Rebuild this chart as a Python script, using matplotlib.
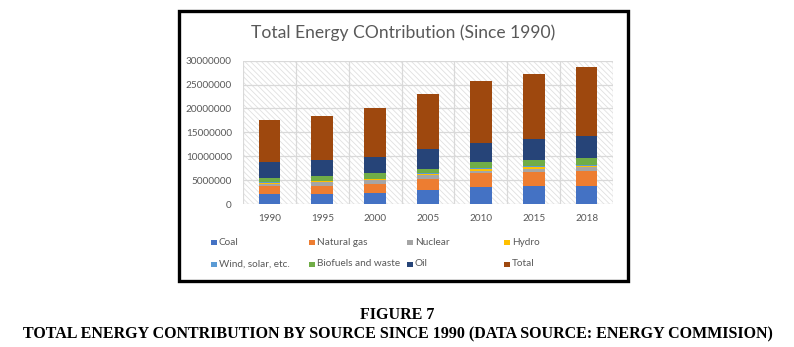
import numpy as np
import matplotlib.pyplot as plt
from matplotlib.patches import Rectangle

years = ["1990", "1995", "2000", "2005", "2010", "2015", "2018"]

coal = [2090000, 2090000, 2300000, 2930000, 3630000, 3770000, 3770000]
natural_gas = [1680000, 1680000, 1890000, 2230000, 2790000, 2930000, 3140000]
nuclear = [490000, 830000, 900000, 910000, 490000, 630000, 840000]
hydro = [140000, 150000, 140000, 210000, 420000, 490000, 300000]
wind_solar = [140000, 50000, 70000, 140000, 140000, 200000, 200000]
biofuels = [900000, 1060000, 1120000, 910000, 1320000, 1190000, 1380000]
oil = [3350000, 3350000, 3420000, 4170000, 3980000, 4390000, 4610000]
total = [8800000, 9210000, 10260000, 11500000, 12980000, 13600000, 14460000]

series = [
    ("Coal", coal, "#4472C4"),
    ("Natural gas", natural_gas, "#ED7D31"),
    ("Nuclear", nuclear, "#A5A5A5"),
    ("Hydro", hydro, "#FFC000"),
    ("Wind, solar, etc.", wind_solar, "#5B9BD5"),
    ("Biofuels and waste", biofuels, "#70AD47"),
    ("Oil", oil, "#264478"),
    ("Total", total, "#9E480E"),
]

W, H = 794, 347
fig = plt.figure(figsize=(W / 100, H / 100), dpi=100)
plt.rcParams["hatch.linewidth"] = 0.6
plt.rcParams["hatch.color"] = "#e0e0e0"

font = "Lato"
grey = "#595959"

def px(x, y):
    # pixel position (top-left origin) -> figure fraction
    return x / W, 1 - y / H

# chart frame
fig.patches.append(Rectangle(px(178.5, 281), 449 / W, 270 / H, transform=fig.transFigure,
                             fill=False, edgecolor="black", linewidth=2.4, zorder=5))

ax = fig.add_axes([243 / W, 1 - 204 / H, 370 / W, 143.3 / H])
ax.set_facecolor("white")
ax.add_patch(Rectangle((0, 0), 1, 1, transform=ax.transAxes, facecolor="white",
                       edgecolor="#e0e0e0", hatch="\\\\\\\\\\\\", linewidth=0, zorder=0))

x = np.arange(len(years))
bottom = np.zeros(len(years))
for name, vals, col in series:
    ax.bar(x, vals, width=0.41, bottom=bottom, color=col, zorder=3)
    bottom += np.array(vals)

ax.set_xlim(-0.5, len(years) - 0.5)
ax.set_ylim(0, 30000000)
ax.set_yticks(np.arange(0, 30000001, 5000000))
ax.set_yticklabels([str(v) for v in range(0, 30000001, 5000000)])
ax.set_xticks(x)
ax.set_xticklabels(years)
for yv in np.arange(0, 30000001, 5000000):
    ax.axhline(yv, color="#d9d9d9", linewidth=0.9, zorder=1)
for xv in np.arange(-0.5, len(years), 1.0):
    ax.axvline(xv, color="#d9d9d9", linewidth=0.9, zorder=1)
for s in ax.spines.values():
    s.set_visible(False)
ax.tick_params(length=0, labelsize=7.2, labelcolor=grey)
ax.tick_params(axis="y", pad=8)
ax.tick_params(axis="x", pad=7)
for lab in ax.get_xticklabels() + ax.get_yticklabels():
    lab.set_fontfamily(font)

fig.text(*px(403, 33), "Total Energy COntribution (Since 1990)", ha="center", va="center",
         fontsize=12.6, color=grey, family=font)

# legend, two rows of four
col_x = [211, 309, 406.7, 504.3]
row_y = [242.7, 264]
for i, (name, vals, col) in enumerate(series):
    lx = col_x[i % 4]
    ly = row_y[i // 4]
    fig.patches.append(Rectangle(px(lx, ly + 2.5), 6 / W, 5 / H, transform=fig.transFigure,
                                 facecolor=col, edgecolor="none"))
    fig.text(*px(lx + 8, ly), name, ha="left", va="center", fontsize=7.2, color=grey, family=font)

fig.text(*px(397, 315), "FIGURE 7", ha="center", va="center", fontsize=11.5,
         fontweight="bold", family="Liberation Serif")
fig.text(*px(398, 334), "TOTAL ENERGY CONTRIBUTION BY SOURCE SINCE 1990 (DATA SOURCE: ENERGY COMMISION)",
         ha="center", va="center", fontsize=11.5, fontweight="bold", family="Liberation Serif")

fig.savefig("out.png", dpi=100)
